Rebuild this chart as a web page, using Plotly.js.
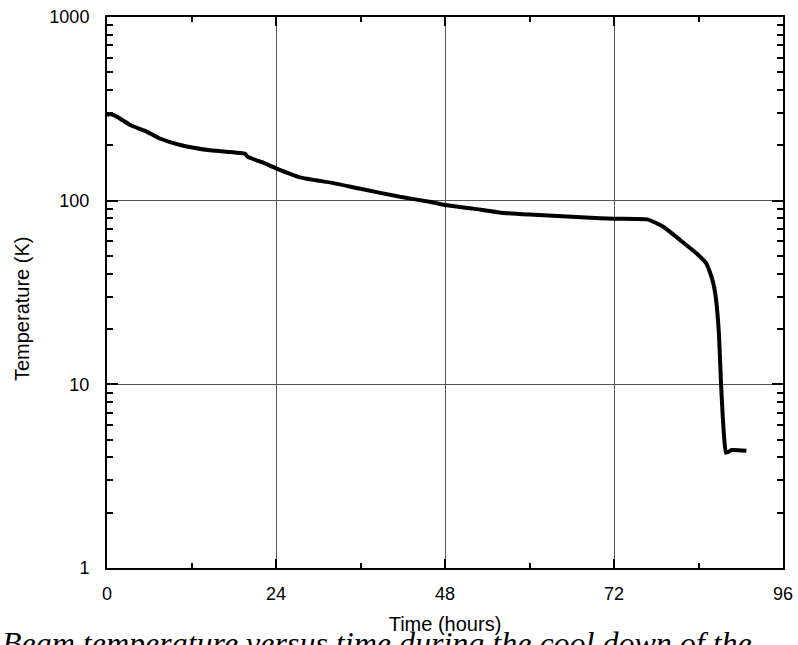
<!DOCTYPE html>
<html>
<head>
<meta charset="utf-8">
<script src="https://cdn.plot.ly/plotly-3.0.1.min.js"></script>
<style>html,body{margin:0;padding:0;background:#fff;overflow:hidden}#chart{width:798px;height:645px}</style>
</head>
<body>
<div id="chart"></div>
<script>
// Time (hours)
const timeHours = [0, 0.4, 1.5, 3.3, 5.5, 7.5, 10.4, 14.6, 18.9, 19.6, 20.0, 22, 24, 27.4, 32, 36, 41.6, 46, 48, 52, 56, 60, 64, 68, 72, 76.7, 77.5, 79.0, 81.4, 83.7, 85.1, 85.6, 86.1, 86.5, 86.9, 87.2, 87.6, 87.9, 88.3, 88.7, 90.8];
// Temperature (K)
const temperatureK = [292, 296, 285, 258, 239, 218, 201, 188, 182, 180, 173, 162, 150, 134, 125, 116, 105, 98.3, 94.7, 90.5, 86, 84, 82.4, 80.9, 79.8, 79.1, 77, 72.1, 61, 51.7, 45.6, 41, 35.5, 28.8, 18.9, 10.1, 5.41, 4.24, 4.3, 4.39, 4.35];

const xTicks = [0, 24, 48, 72, 96];
const xTickLabels = ['0', '24', '48', '72', '96'];
const yTicks = [1, 10, 100, 1000];
const yTickLabels = ['1', '10', '100', '1000'];
const yMinorTicks = [2,3,4,5,6,7,8,9,20,30,40,50,60,70,80,90,200,300,400,500,600,700,800,900];

const xTitle = 'Time (hours)';
const yTitle = 'Temperature (K)';
const caption = 'Beam temperature versus time during the cool down of the';

const font = 'Liberation Sans, Arial, Helvetica, sans-serif';

const trace = {
  x: timeHours,
  y: temperatureK,
  type: 'scatter',
  mode: 'lines',
  line: {color: '#000', width: 4, shape: 'spline', smoothing: 0.5},
  hoverinfo: 'skip'
};

const layout = {
  width: 798,
  height: 645,
  margin: {l: 107, r: 15, t: 17, b: 77},
  paper_bgcolor: '#fff',
  plot_bgcolor: '#fff',
  showlegend: false,
  font: {family: font, color: '#000', size: 17},
  xaxis: {
    range: [0, 96],
    tickmode: 'array',
    tickvals: xTicks,
    ticktext: xTickLabels,
    ticks: 'inside',
    ticklen: 9,
    tickwidth: 2,
    tickcolor: '#000',
    showline: true,
    linecolor: '#000',
    linewidth: 2,
    mirror: 'ticks',
    showgrid: true,
    gridcolor: '#555',
    gridwidth: 1,
    zeroline: false,
    ticklabelstandoff: 8,
    tickfont: {family: font, size: 18, color: '#000'},
    minor: {dtick: 12, tick0: 0, ticks: 'inside', ticklen: 5, tickwidth: 2, tickcolor: '#000', showgrid: false},
    title: {text: xTitle, font: {family: font, size: 20, color: '#000'}, standoff: 14}
  },
  yaxis: {
    type: 'log',
    range: [0, 3],
    tickmode: 'array',
    tickvals: yTicks,
    ticktext: yTickLabels,
    ticks: 'inside',
    ticklen: 11,
    tickwidth: 2,
    tickcolor: '#000',
    showline: true,
    linecolor: '#000',
    linewidth: 2,
    mirror: 'ticks',
    showgrid: true,
    gridcolor: '#555',
    gridwidth: 1,
    zeroline: false,
    ticklabelstandoff: 12,
    tickfont: {family: font, size: 18, color: '#000'},
    minor: {tickmode: 'array', tickvals: yMinorTicks, ticks: 'inside', ticklen: 6, tickwidth: 2, tickcolor: '#000', showgrid: false}
  },
  annotations: [{
    text: yTitle,
    xref: 'paper', yref: 'paper',
    x: -0.1257, y: 0.470,
    xanchor: 'center', yanchor: 'middle',
    textangle: -90,
    showarrow: false,
    font: {family: font, size: 20, color: '#000'}
  }, {
    text: caption,
    xref: 'paper', yref: 'paper',
    x: -0.1583, y: -0.099,
    xanchor: 'left', yanchor: 'top',
    showarrow: false,
    font: {family: 'Liberation Serif, Times New Roman, serif', size: 32, color: '#000', style: 'italic'}
  }]
};

Plotly.newPlot('chart', [trace], layout, {staticPlot: true, displayModeBar: false});
</script>
</body>
</html>
